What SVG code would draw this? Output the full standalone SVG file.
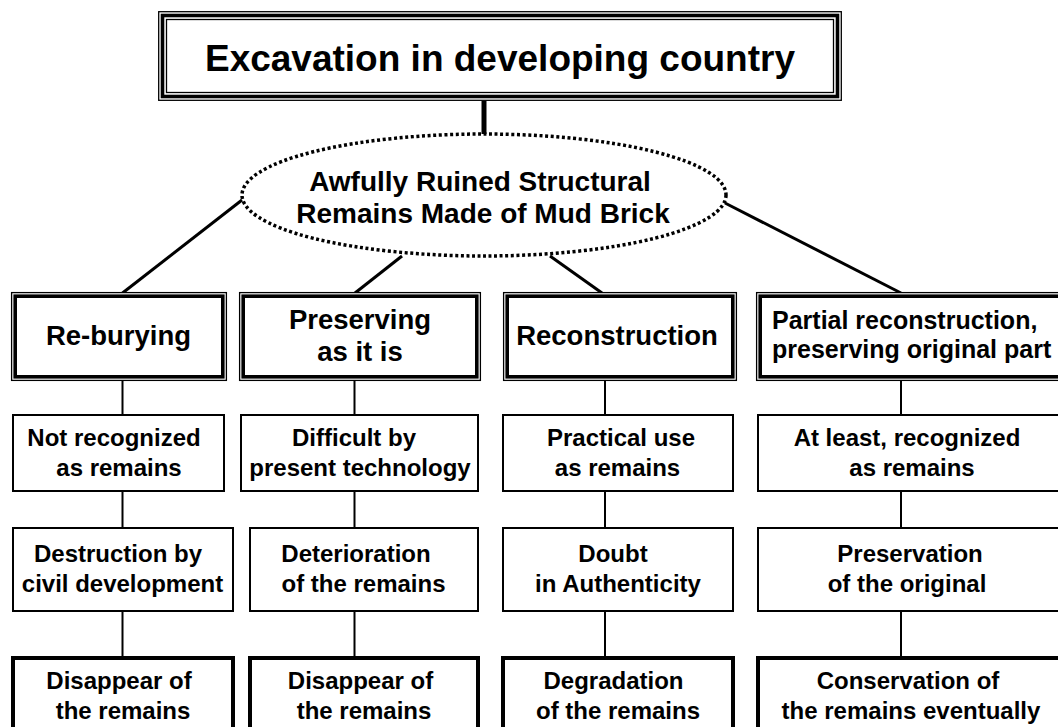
<svg xmlns="http://www.w3.org/2000/svg" width="1058" height="727" viewBox="0 0 1058 727">
<style>
  .t { font-family: "Liberation Sans", Arial, sans-serif; font-weight: bold; fill: #000; text-anchor: middle; }
  .t1 { font-size: 37px; }
  .t2 { font-size: 28px; }
  .t3 { font-size: 27.5px; }
  .t4 { font-size: 24px; }
  .thin { fill: none; stroke: #000; stroke-width: 1.3; }
  .thick { fill: none; stroke: #000; stroke-width: 3.6; }
  .box { fill: #fff; stroke: #000; stroke-width: 2; }
  .boxb { fill: #fff; stroke: #000; stroke-width: 4; }
  .conn { stroke: #000; fill: none; }
</style>
<rect width="1058" height="727" fill="#fff"/>

<g id="connectors">
  <line class="conn" x1="484" y1="100" x2="484" y2="137" stroke-width="5"/>
  <line class="conn" x1="242" y1="200" x2="122.5" y2="293" stroke-width="3"/>
  <line class="conn" x1="402" y1="256" x2="355" y2="293" stroke-width="3"/>
  <line class="conn" x1="550" y1="256" x2="602" y2="293" stroke-width="3"/>
  <line class="conn" x1="725" y1="203" x2="901" y2="293" stroke-width="3"/>
  <line class="conn" x1="122.5" y1="381" x2="122.5" y2="658" stroke-width="2"/>
  <line class="conn" x1="354.5" y1="381" x2="354.5" y2="658" stroke-width="2"/>
  <line class="conn" x1="605" y1="381" x2="605" y2="658" stroke-width="2"/>
  <line class="conn" x1="901" y1="381" x2="901" y2="658" stroke-width="2"/>
</g>

<g id="title">
  <rect x="158" y="11" width="684" height="90" fill="#fff"/>
  <rect class="thin" x="158.7" y="11.7" width="682.6" height="88.6"/>
  <rect class="thick" x="162.5" y="15.5" width="675" height="81" stroke-width="3.4"/>
  <rect class="thin" x="166.5" y="19.5" width="667" height="73" stroke-width="1.1"/>
  <text class="t t1" x="500" y="71">Excavation in developing country</text>
</g>

<g id="ellipse">
  <ellipse cx="484" cy="195" rx="242" ry="61" fill="#fff" stroke="#000" stroke-width="3.5" stroke-dasharray="3 2.6"/>
  <text class="t t2" x="480" y="191">Awfully Ruined Structural</text>
  <text class="t t2" x="483" y="223">Remains Made of Mud Brick</text>
</g>

<g id="reburying">
  <rect x="11" y="292" width="216" height="89" fill="#fff"/>
  <rect class="thin" x="11.6" y="292.6" width="214.8" height="87.8"/>
  <rect class="thick" x="15.2" y="296.2" width="207.6" height="80.6"/>
  <text class="t t3" x="118.5" y="345">Re-burying</text>
</g>
<g id="preserving">
  <rect x="239" y="292" width="242" height="89" fill="#fff"/>
  <rect class="thin" x="239.6" y="292.6" width="240.8" height="87.8"/>
  <rect class="thick" x="243.2" y="296.2" width="233.6" height="80.6"/>
  <text class="t t3" x="360" y="329">Preserving</text>
  <text class="t t3" x="360" y="361">as it is</text>
</g>
<g id="reconstruction">
  <rect x="503" y="292" width="234" height="89" fill="#fff"/>
  <rect class="thin" x="503.6" y="292.6" width="232.8" height="87.8"/>
  <rect class="thick" x="507.2" y="296.2" width="225.6" height="80.6"/>
  <text class="t t3" x="617" y="345">Reconstruction</text>
</g>
<g id="partial">
  <rect x="756" y="292" width="310" height="89" fill="#fff"/>
  <rect class="thin" x="756.6" y="292.6" width="308.8" height="87.8"/>
  <rect class="thick" x="760.2" y="296.2" width="301.6" height="80.6"/>
  <text class="t" x="772" y="329" style="font-size:25px;text-anchor:start">Partial reconstruction,</text>
  <text class="t" x="772" y="358" style="font-size:25px;text-anchor:start">preserving original part</text>
</g>

<g id="notrecognized">
  <rect class="box" x="13" y="415" width="211" height="76"/>
  <text class="t t4" x="114" y="446">Not recognized</text>
  <text class="t t4" x="119" y="476">as remains</text>
</g>
<g id="difficult">
  <rect class="box" x="241" y="415" width="237" height="76"/>
  <text class="t t4" x="354" y="446">Difficult by</text>
  <text class="t t4" x="360" y="476">present technology</text>
</g>
<g id="practical">
  <rect class="box" x="503" y="415" width="230" height="76"/>
  <text class="t t4" x="621" y="446">Practical use</text>
  <text class="t t4" x="617.5" y="476">as remains</text>
</g>
<g id="atleast">
  <rect class="box" x="758" y="415" width="310" height="76"/>
  <text class="t t4" x="907" y="446">At least, recognized</text>
  <text class="t t4" x="912" y="476">as remains</text>
</g>

<g id="destruction">
  <rect class="box" x="13" y="528" width="220" height="83"/>
  <text class="t t4" x="118" y="562">Destruction by</text>
  <text class="t t4" x="122.5" y="592">civil development</text>
</g>
<g id="deterioration">
  <rect class="box" x="250" y="528" width="228" height="83"/>
  <text class="t t4" x="356" y="562">Deterioration</text>
  <text class="t t4" x="363.5" y="592">of the remains</text>
</g>
<g id="doubt">
  <rect class="box" x="503" y="528" width="230" height="83"/>
  <text class="t t4" x="613" y="562">Doubt</text>
  <text class="t t4" x="618" y="592">in Authenticity</text>
</g>
<g id="preservation">
  <rect class="box" x="758" y="528" width="310" height="83"/>
  <text class="t t4" x="910" y="562">Preservation</text>
  <text class="t t4" x="907" y="592">of the original</text>
</g>

<g id="disappear1">
  <rect class="boxb" x="13" y="658" width="220" height="90"/>
  <text class="t t4" x="119" y="689">Disappear of</text>
  <text class="t t4" x="123" y="719">the remains</text>
</g>
<g id="disappear2">
  <rect class="boxb" x="250" y="658" width="228" height="90"/>
  <text class="t t4" x="360.5" y="689">Disappear of</text>
  <text class="t t4" x="364" y="719">the remains</text>
</g>
<g id="degradation">
  <rect class="boxb" x="503" y="658" width="230" height="90"/>
  <text class="t t4" x="613.5" y="689">Degradation</text>
  <text class="t t4" x="618" y="719">of the remains</text>
</g>
<g id="conservation">
  <rect class="boxb" x="758" y="658" width="310" height="90"/>
  <text class="t t4" x="908" y="689">Conservation of</text>
  <text class="t t4" x="911" y="719">the remains eventually</text>
</g>
</svg>
